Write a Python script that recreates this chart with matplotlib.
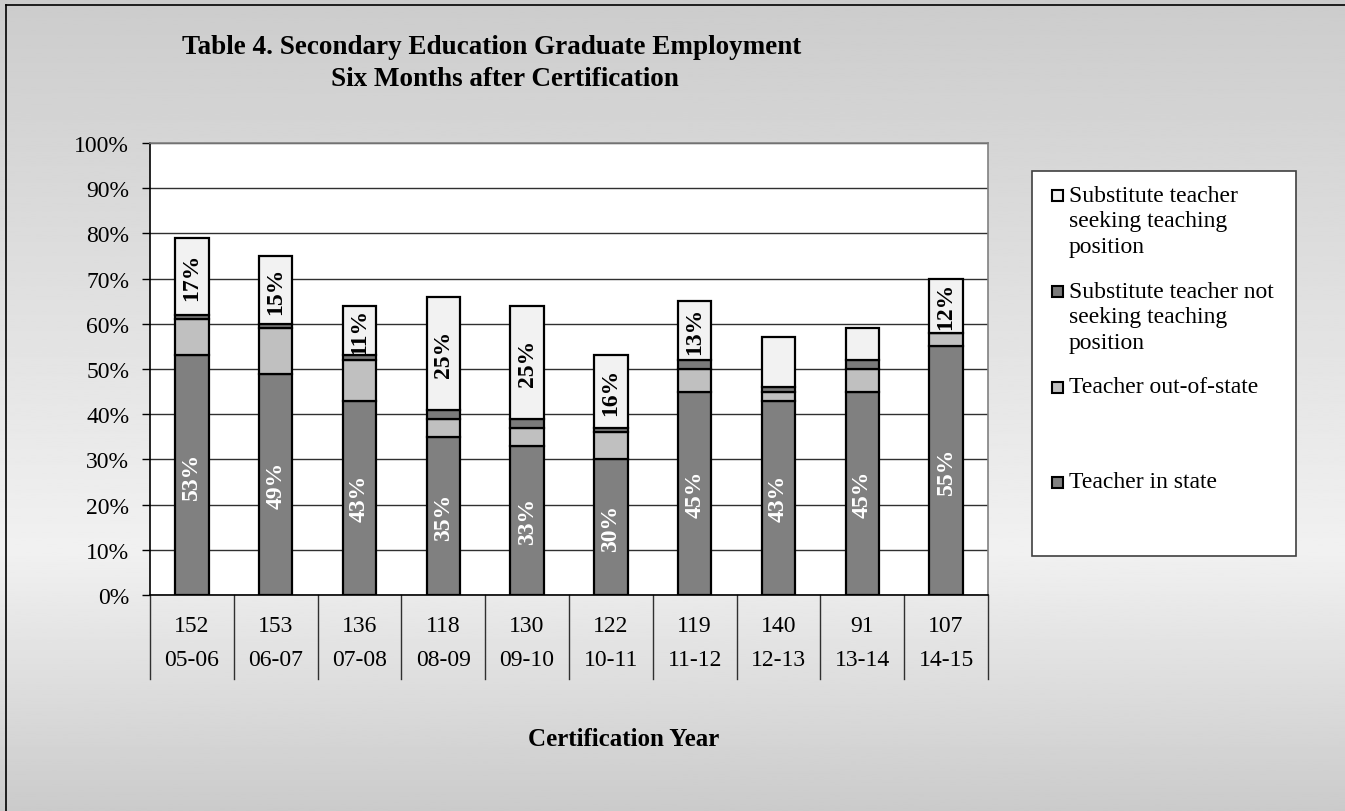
import matplotlib.pyplot as plt
import matplotlib.patches as mpatches
import numpy as np

years = ['05-06', '06-07', '07-08', '08-09', '09-10', '10-11', '11-12', '12-13', '13-14', '14-15']
counts = ['152', '153', '136', '118', '130', '122', '119', '140', '91', '107']
in_state = [53, 49, 43, 35, 33, 30, 45, 43, 45, 55]
out_state = [8, 10, 9, 4, 4, 6, 5, 2, 5, 3]
sub_not_seeking = [1, 1, 1, 2, 2, 1, 2, 1, 2, 0]
sub_seeking = [17, 15, 11, 25, 25, 16, 13, 11, 7, 12]
in_labels = ['53%', '49%', '43%', '35%', '33%', '30%', '45%', '43%', '45%', '55%']
seek_labels = ['17%', '15%', '11%', '25%', '25%', '16%', '13%', '', '', '12%']
legend_labels = [['Substitute teacher', 'seeking teaching', 'position'],
                 ['Substitute teacher not', 'seeking teaching', 'position'],
                 ['Teacher out-of-state'],
                 ['Teacher in state']]

plt.rcParams['font.family'] = ['Liberation Serif', 'DejaVu Serif']

W, H = 1345, 812
fig = plt.figure(figsize=(W / 100, H / 100), dpi=100)

# gradient background
bg = fig.add_axes([0, 0, 1, 1], zorder=-10)
grad = np.interp(np.linspace(0, 1, 400), [0, 0.68, 1], [0.80, 0.945, 0.795])
bg.imshow(grad[:, None], cmap='gray', vmin=0, vmax=1, aspect='auto', extent=[0, 1, 0, 1])
bg.axis('off')
fig.add_artist(plt.Line2D([6 / W, 6 / W], [0, 1 - 6 / H], color='black', lw=1.2))
fig.add_artist(plt.Line2D([6 / W, 1], [1 - 6 / H, 1 - 6 / H], color='black', lw=1.2))

ax = fig.add_axes([150 / W, 1 - 596 / H, 838 / W, 452 / H])
ax.set_facecolor('white')
x = np.arange(len(years))
c_in, c_out, c_not, c_seek = '#808080', '#c0c0c0', '#7a7a7a', '#f2f2f2'
b1 = np.array(in_state)
b2 = b1 + np.array(out_state)
b3 = b2 + np.array(sub_not_seeking)
kw = dict(width=0.4, edgecolor='black', linewidth=1.6, zorder=3)
ax.bar(x, in_state, color=c_in, **kw)
ax.bar(x, out_state, bottom=b1, color=c_out, **kw)
ax.bar(x, sub_not_seeking, bottom=b2, color=c_not, **kw)
ax.bar(x, sub_seeking, bottom=b3, color=c_seek, **kw)

for i in range(len(years)):
    ax.text(x[i], in_state[i] / 2, in_labels[i], rotation=90, ha='center', va='center',
            color='white', fontsize=17, fontweight='bold', zorder=4)
    if seek_labels[i]:
        ax.text(x[i], b3[i] + sub_seeking[i] / 2, seek_labels[i], rotation=90, ha='center',
                va='center', color='black', fontsize=17, fontweight='bold', zorder=4)

ax.set_xlim(-0.5, len(years) - 0.5)
ax.set_ylim(0, 100)
ax.set_yticks(range(0, 101, 10))
ax.set_yticklabels([f'{v}%' for v in range(0, 101, 10)], fontsize=17)
ax.tick_params(axis='y', length=6, width=1, pad=9, direction='out')
ax.set_xticks([])
ax.yaxis.grid(True, color='#303030', lw=1)
ax.set_axisbelow(True)
for s in ['left', 'bottom']:
    ax.spines[s].set_color('black')
    ax.spines[s].set_linewidth(1.2)
for s in ['top', 'right']:
    ax.spines[s].set_color('#808080')
    ax.spines[s].set_linewidth(1.2)

# category table under the axis
tr = ax.get_xaxis_transform()
depth = (680 - 596) / 452
for xb in np.arange(-0.5, len(years), 1.0):
    ax.plot([xb, xb], [0, -depth], color='#303030', lw=1, transform=tr, clip_on=False)
for i in range(len(years)):
    ax.text(x[i], -(627 - 596) / 452, counts[i], ha='center', va='center', fontsize=17, transform=tr)
    ax.text(x[i], -(661 - 596) / 452, years[i], ha='center', va='center', fontsize=17, transform=tr)

fig.text(492 / W, 1 - 47 / H, 'Table 4. Secondary Education Graduate Employment',
         ha='center', va='center', fontsize=19.5, fontweight='bold')
fig.text(505 / W, 1 - 80 / H, 'Six Months after Certification',
         ha='center', va='center', fontsize=19.5, fontweight='bold')
fig.text(624 / W, 1 - 740 / H, 'Certification Year', ha='center', va='center',
         fontsize=18, fontweight='bold')

# legend
fig.add_artist(mpatches.Rectangle((1032 / W, 1 - 557 / H), 264 / W, 385 / H, transform=fig.transFigure,
                                  facecolor='white', edgecolor='#404040', lw=1.2))
leg_colors = [c_seek, c_not, c_out, c_in]
first_y = [196, 292, 388, 483]
for lines, col, y0 in zip(legend_labels, leg_colors, first_y):
    fig.add_artist(mpatches.Rectangle((1052 / W, 1 - (y0 + 5.5) / H), 11 / W, 11 / H,
                                      transform=fig.transFigure, facecolor=col,
                                      edgecolor='black', lw=1.5))
    for k, line in enumerate(lines):
        fig.text(1069 / W, 1 - (y0 + 26 * k) / H, line, ha='left', va='center', fontsize=17)

fig.savefig('out.png', dpi=100)
